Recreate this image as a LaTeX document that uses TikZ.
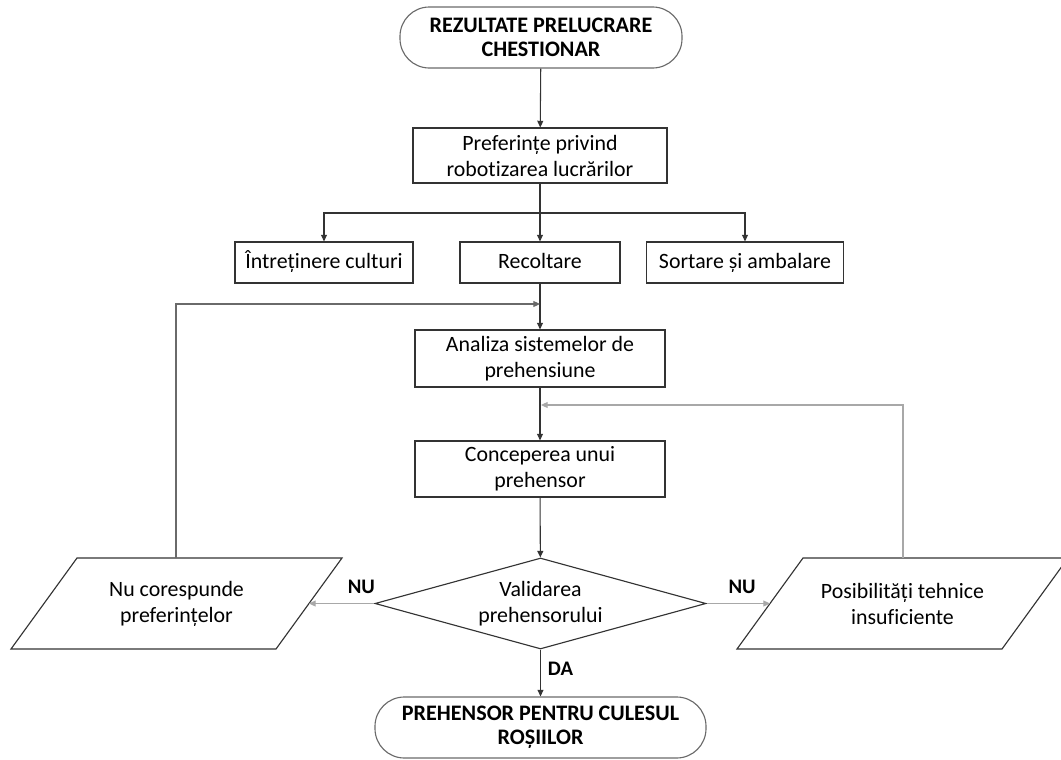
\documentclass[tikz,border=0pt]{standalone}
\usepackage{fontspec}
\setmainfont[Ligatures={NoCommon}]{Carlito}
\usetikzlibrary{arrows.meta,shapes.geometric}
\definecolor{boxline}{HTML}{333333}
\definecolor{termline}{HTML}{6A6A6A}
\definecolor{conn}{HTML}{333333}
\definecolor{connmid}{HTML}{6A6A6A}
\definecolor{connlight}{HTML}{A8A8A8}
\begin{document}
\begin{tikzpicture}[x=0.75pt,y=-0.75pt,
  font=\fontsize{16.4}{19.5}\selectfont,
  procbox/.style={draw=boxline,line width=0.85pt,rectangle,inner sep=0pt,align=center},
  onebox/.style={procbox,text height=11.5pt,text depth=3pt,minimum height=41*0.75pt},
  termbox/.style={draw=termline,line width=0.85pt,rectangle,rounded corners=22pt,inner sep=0pt,align=center,
    font=\fontsize{16.6}{18}\selectfont\bfseries,minimum width=331*0.75pt,minimum height=61*0.75pt},
  decbox/.style={draw=boxline,line width=0.85pt,diamond,aspect=3.64,inner sep=0pt,align=center,
    minimum width=331*0.75pt,minimum height=91*0.75pt},
  paratext/.style={inner sep=0pt,align=center},
  paraline/.style={draw=boxline,line width=0.85pt},
  arr/.style={draw=conn,line width=0.8pt,-{Triangle[length=5pt,width=4.5pt]}},
  arrmid/.style={draw=connmid,line width=0.8pt,-{Triangle[length=5pt,width=4.5pt]}},
  arrlight/.style={draw=connlight,line width=0.8pt,-{Triangle[length=5pt,width=4.5pt]}},
  lbl/.style={font=\fontsize{15.5}{18}\selectfont\bfseries,inner sep=0pt}
]
\useasboundingbox (0,0) rectangle (1061,760);

% terminators
\node[termbox,minimum width=282*0.75pt] (start) at (541,37.5) {REZULTATE PRELUCRARE\\CHESTIONAR};
\node[termbox] (finish) at (540.5,727.5) {PREHENSOR PENTRU CULESUL\\ROȘIILOR};

% process boxes
\node[procbox,minimum width=254*0.75pt,minimum height=55*0.75pt] (pref) at (540,155.5) {Preferințe privind\\robotizarea lucrărilor};
\node[onebox,minimum width=178*0.75pt] (intr) at (324,262.5) {Întreținere culturi};
\node[onebox,minimum width=160*0.75pt] (recol) at (540,262.5) {Recoltare};
\node[onebox,minimum width=197*0.75pt] (sort) at (745,262.5) {Sortare și ambalare};
\node[procbox,minimum width=250*0.75pt,minimum height=57*0.75pt] (anal) at (540,358.5) {Analiza sistemelor de\\prehensiune};
\node[procbox,minimum width=250*0.75pt,minimum height=56*0.75pt] (conc) at (540,469) {Conceperea unui\\prehensor};

% decision
\node[decbox] (valid) at (540.5,603.5) {Validarea\\prehensorului};

% parallelograms
\draw[paraline] (11,649) -- (276,649) -- (342,558) -- (77,558) -- cycle;
\node[paratext] (nuc) at (176.5,603.5) {Nu corespunde\\preferințelor};
\coordinate (nucR) at (309,603.5);
\coordinate (nucT) at (176,558);

\draw[paraline] (737,649) -- (1002,649) -- (1068,558) -- (803,558) -- cycle;
\node[paratext] (pos) at (902.5,603.5) {Posibilități tehnice\\insuficiente};
\coordinate (posL) at (770,603.5);
\coordinate (posT) at (903,558);

% junctions
\coordinate (split) at (540,213);
\coordinate (j1) at (540,304);
\coordinate (j2) at (541,405);

% connectors
\draw[arr] (start) -- (pref);
\draw[arr] (pref) -- (recol);
\draw[arr] (split) -| (intr.north);
\draw[arr] (split) -| (sort.north);
\draw[arr] (recol) -- (anal);
\draw[arrmid] (nucT) |- (j1);
\draw[arr] (anal) -- (conc);
\draw[arrlight] (posT) |- (j2);
\draw[arr] (conc) -- (valid);
\draw[arrlight] (valid.west) -- node[lbl,pos=0.2,yshift=12.4pt] {NU} (nucR);
\draw[arrlight] (valid.east) -- node[lbl,pos=0.56,yshift=12.4pt] {NU} (posL);
\draw[arr] (valid.south) -- node[lbl,pos=0.4,xshift=15pt] {DA} (finish);
\end{tikzpicture}
\end{document}
